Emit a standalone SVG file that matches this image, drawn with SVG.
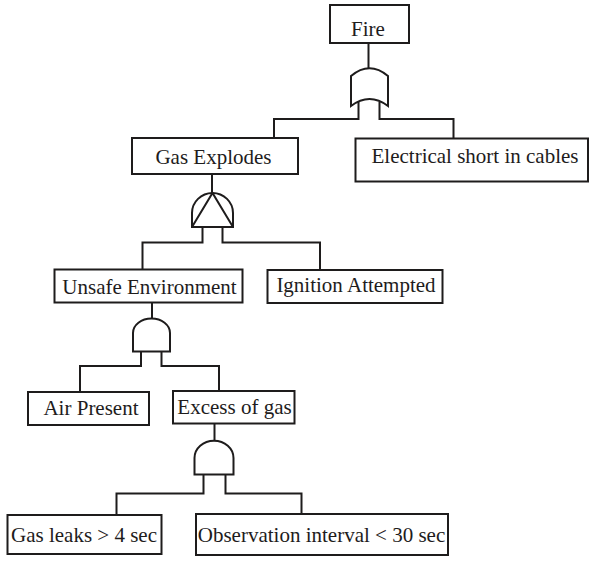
<svg xmlns="http://www.w3.org/2000/svg" width="589" height="561" viewBox="0 0 589 561">
<style>
.ln { fill: none; stroke: #1e1c1c; stroke-width: 2; }
.box { fill: #ffffff; stroke: #1e1c1c; stroke-width: 2; }
text { font-family: "Liberation Serif", "Times New Roman", serif; font-size: 21px; fill: #1e1c1c; text-anchor: middle; }
</style>
<rect x="0" y="0" width="589" height="561" fill="#ffffff"/>
<g id="connectors" class="ln">
  <polyline points="368.5,43 368.5,69"/>
  <polyline points="358.5,102 358.5,119 274,119 274,138"/>
  <polyline points="379.5,102 379.5,119 453.5,119 453.5,138.5"/>
  <polyline points="212,174 212,193"/>
  <polyline points="202.5,227 202.5,242.5 142.5,242.5 142.5,269.5"/>
  <polyline points="222.5,227 222.5,242.5 320,242.5 320,270"/>
  <polyline points="152,302.5 152,318.5"/>
  <polyline points="141,351.5 141,366 80,366 80,392"/>
  <polyline points="161.5,351.5 161.5,366 219,366 219,391"/>
  <polyline points="214.5,423.5 214.5,441"/>
  <polyline points="203.5,474.5 203.5,493.5 116.5,493.5 116.5,515"/>
  <polyline points="225.5,474.5 225.5,493.5 301.5,493.5 301.5,514"/>
</g>
<g id="gate-or" class="ln">
  <path d="M351,106 V76 Q369.5,60.5 388,76 V106 Q369.5,92 351,106 Z"/>
</g>
<g id="gate-and-triangle" class="ln">
  <path d="M192,227 V213 A20.5,20 0 0 1 233,213 V227 Z"/>
  <path d="M192,227 L212.5,193 L233,227"/>
</g>
<g id="gate-and-1" class="ln">
  <path d="M133,351.5 V333 A18.5,14.5 0 0 1 170,333 V351.5 Z"/>
</g>
<g id="gate-and-2" class="ln">
  <path d="M194.5,474.5 V458 A19.5,17.3 0 0 1 233.5,458 V474.5 Z"/>
</g>
<g id="node-fire">
  <rect class="box" x="330" y="5" width="79" height="38"/>
  <text x="368" y="36">Fire</text>
</g>
<g id="node-gas-explodes">
  <rect class="box" x="132" y="138" width="166" height="36"/>
  <text x="213.5" y="163.5">Gas Explodes</text>
</g>
<g id="node-electrical">
  <rect class="box" x="355.5" y="138.5" width="232.5" height="43"/>
  <text x="475" y="163">Electrical short in cables</text>
</g>
<g id="node-unsafe">
  <rect class="box" x="54.5" y="269.5" width="188" height="33"/>
  <text x="149.5" y="293.5">Unsafe Environment</text>
</g>
<g id="node-ignition">
  <rect class="box" x="267.5" y="270" width="175" height="33"/>
  <text x="356" y="292">Ignition Attempted</text>
</g>
<g id="node-air">
  <rect class="box" x="28" y="392" width="121" height="33"/>
  <text x="91" y="415">Air Present</text>
</g>
<g id="node-excess">
  <rect class="box" x="173" y="391" width="121.5" height="32.5"/>
  <text x="234.5" y="414">Excess of gas</text>
</g>
<g id="node-gas-leaks">
  <rect class="box" x="7.5" y="515" width="154" height="39"/>
  <text x="84" y="542">Gas leaks &gt; 4 sec</text>
</g>
<g id="node-observation">
  <rect class="box" x="196" y="514" width="252" height="41"/>
  <text x="321.5" y="542">Observation interval &lt; 30 sec</text>
</g>
</svg>
